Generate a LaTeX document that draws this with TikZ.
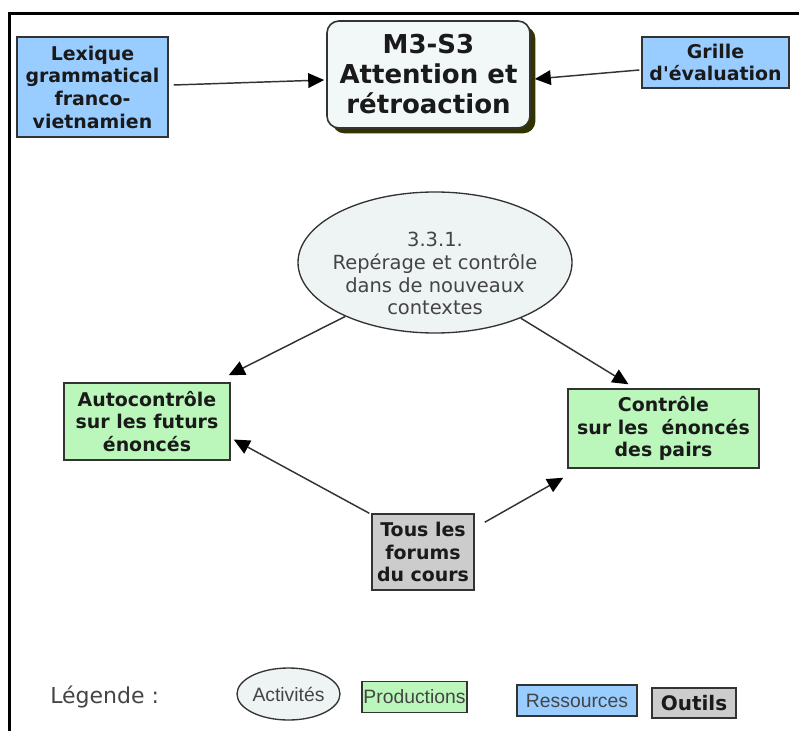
\documentclass[tikz,border=0pt]{standalone}
\usepackage{fontspec}
\setmainfont{DejaVu Sans}
\newfontfamily\arialf{Liberation Sans}
\usetikzlibrary{arrows.meta,shapes.geometric,shadows}
\definecolor{resblue}{HTML}{99CCFF}
\definecolor{prodgreen}{HTML}{BBF7BB}
\definecolor{toolgray}{HTML}{CCCCCC}
\definecolor{mainfill}{HTML}{F2F7F7}
\definecolor{ellfill}{HTML}{EEF4F4}
\definecolor{shadowc}{HTML}{333300}
\definecolor{edgec}{HTML}{333333}
\definecolor{txtc}{HTML}{1A1A1A}
\definecolor{softtxt}{HTML}{444444}
\tikzset{
  x=0.75pt, y=-0.75pt,
  box/.style={draw=edgec, line width=1.1pt, inner sep=0pt, align=center,
    text=txtc, font=\fontsize{14.2}{17}\selectfont\bfseries},
  resbox/.style={box, fill=resblue},
  prodbox/.style={box, fill=prodgreen},
  toolbox/.style={box, fill=toolgray},
  mainbox/.style={draw=edgec, line width=1.2pt, rounded corners=9pt, fill=mainfill,
    inner sep=0pt, align=center, text=txtc,
    font=\fontsize{19.5}{22.5}\selectfont\bfseries,
    drop shadow={shadow xshift=4pt, shadow yshift=-4pt, fill=shadowc, opacity=1}},
  actell/.style={ellipse, draw=edgec, line width=1pt, fill=ellfill, inner sep=0pt},
  conn/.style={draw=edgec, line width=1.1pt,
    -{Triangle[length=12pt,width=11pt,fill=black,color=black]}},
  frameline/.style={line width=2.25pt, draw=black},
  legtxt/.style={font=\arialf\fontsize{14.5}{17}\selectfont, text=softtxt},
  legbox/.style={draw=edgec, line width=1.1pt, inner sep=0pt, minimum height=23.25pt}
}
\begin{document}
\begin{tikzpicture}
\useasboundingbox (0,0) rectangle (799,731);
% frame
\coordinate (fTL) at (9,14);
\coordinate (fTR) at (799,14);
\coordinate (fBL) at (9,731);
\draw[frameline] (fTR) -- (fTL) -- (fBL);

% nodes
\node[resbox, minimum width=113.25pt, minimum height=75pt] (lex) at (92.5,87)
  {Lexique\\grammatical\\franco-\\vietnamien};
\node[mainbox, minimum width=152.25pt, minimum height=80.25pt] (main) at (428.5,74.5)
  {M3-S3\\Attention et\\rétroaction};
\node[resbox, minimum width=110.25pt, minimum height=38.25pt] (grille) at (715.5,62.5)
  {Grille\\d\textquotesingle évaluation};
\node[actell, minimum width=205.5pt, minimum height=105.75pt,
  label={[name=elltext, yshift=-8.5pt, align=center, text=softtxt,
    font=\fontsize{14.6}{17}\selectfont]center:3.3.1.\\Repérage et contrôle\\dans de nouveaux\\contextes}]
  (ell) at (435,262.5) {};
\node[prodbox, minimum width=124.5pt, minimum height=57.75pt] (auto) at (147,421.5)
  {Autocontrôle\\sur les futurs\\énoncés};
\node[prodbox, minimum width=143.25pt, minimum height=59.25pt] (ctrl) at (663.5,428.5)
  {Contrôle\\sur les\ \ énoncés\\des pairs};
\node[toolbox, minimum width=76.5pt, minimum height=57pt] (tous) at (423,552)
  {Tous les\\forums\\du cours};

% connectors
\draw[conn] ([shift={(5,-2)}]lex.east) -- ([shift={(-2,5.5)}]main.west);
\draw[conn] ([shift={(-2,7.5)}]grille.west) -- ([shift={(4,4.5)}]main.east);
\draw[conn] (ell.211) -- ([shift={(-2,-7)}]auto.north east);
\draw[conn] (ell.-33) -- ([shift={(-35,-4)}]ctrl.north);
\draw[conn] ([shift={(-2,0)}]tous.north west) -- ([shift={(3,18)}]auto.east);
\draw[conn] ([shift={(10,9)}]tous.north east) -- ([shift={(-4,9)}]ctrl.south west);

% legend
\node[anchor=base west, font=\fontsize{16.5}{19}\selectfont, text=softtxt, inner sep=0pt]
  (legende) at (50,703) {Légende :};
\node[actell, minimum width=77.25pt, minimum height=39pt,
  label={[name=acttext, legtxt]center:Activités}] (legact) at (288.5,694) {};
\node[legbox, fill=prodgreen, minimum width=78.75pt, legtxt] (legprod) at (414.5,697) {Productions};
\node[legbox, fill=resblue, minimum width=90pt, legtxt] (legres) at (577,700.5) {Ressources};
\node[legbox, fill=toolgray, minimum width=63pt, minimum height=22.5pt,
  font=\fontsize{15}{17}\selectfont\bfseries, text=txtc] (legout) at (694,703) {Outils};
\end{tikzpicture}
\end{document}
